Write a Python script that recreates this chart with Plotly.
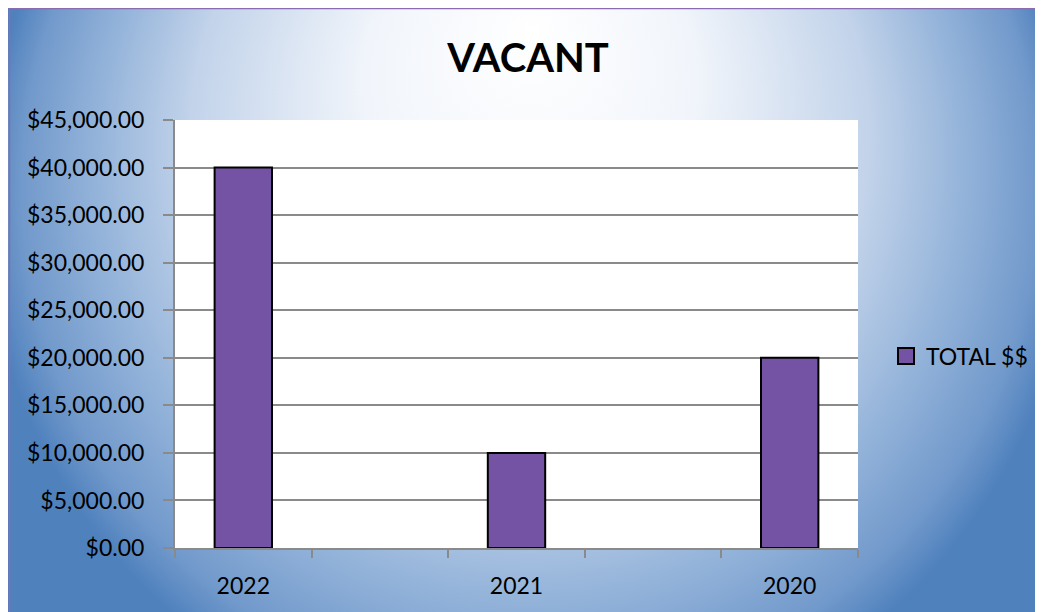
import base64

import plotly.graph_objects as go

# Excel-style category slots: blank spacer slots sit between the years
categories = ["2022", " ", "2021", "  ", "2020"]
total_dollars = [40000, None, 10000, None, 20000]
y_ticks = [0, 5000, 10000, 15000, 20000, 25000, 30000, 35000, 40000, 45000]

_BAR_COLOR = "#7453a4"
_GRID_COLOR = "#8a8a8a"
_FONT = "Lato"

# figure size and plot-area margins in pixels (page has an 8px body margin)
W, H = 1043, 612
L, R, T, B = 167, 193, 112, 72
PW, PH = W - L - R, H - T - B


def px_x(px):
    return (px - L) / PW


def px_y(py):
    return (H - B - py) / PH


# radial blue gradient with its light focus near the top (Excel preset look)
svg = """<svg xmlns='http://www.w3.org/2000/svg' width='1043' height='612'>
<defs><radialGradient id='g' gradientUnits='userSpaceOnUse'
 cx='522' cy='192' r='547' fx='522' fy='22'>
<stop offset='0' stop-color='#ffffff'/>
<stop offset='0.3' stop-color='#f1f5fb'/>
<stop offset='0.62' stop-color='#c2d3ea'/>
<stop offset='0.8' stop-color='#92b2d9'/>
<stop offset='0.93' stop-color='#7199cb'/>
<stop offset='1' stop-color='#4f81bd'/>
</radialGradient></defs>
<rect width='1043' height='612' fill='url(#g)'/>
</svg>"""
bg_uri = "data:image/svg+xml;base64," + base64.b64encode(svg.encode()).decode()

fig = go.Figure()
fig.add_trace(
    go.Bar(
        x=categories,
        y=total_dollars,
        name="TOTAL $$",
        width=0.42,
        marker={"color": _BAR_COLOR, "line": {"color": "#000000", "width": 2}},
        showlegend=False,
    )
)
# legend entry with a larger square swatch, like Excel's
fig.add_trace(
    go.Scatter(
        x=[None],
        y=[None],
        mode="markers",
        name="TOTAL $$",
        marker={"symbol": "square", "size": 16, "color": _BAR_COLOR,
                "line": {"color": "#000000", "width": 2}},
    )
)

fig.add_layout_image(
    source=bg_uri,
    xref="paper",
    yref="paper",
    x=px_x(0),
    y=px_y(0),
    sizex=px_x(W) - px_x(0),
    sizey=px_y(0) - px_y(H),
    xanchor="left",
    yanchor="top",
    sizing="stretch",
    layer="below",
)
# white plot area on top of the gradient
fig.add_shape(
    type="rect", xref="x domain", yref="y domain", x0=0, x1=1, y0=0, y1=1,
    fillcolor="white", line_width=0, layer="below",
)
# thin purple chart border
fig.add_shape(
    type="rect", xref="paper", yref="paper",
    x0=px_x(1.5), x1=px_x(W + 20), y0=px_y(0.5), y1=px_y(H + 20),
    line={"color": "#8a6db0", "width": 1.5}, fillcolor="rgba(0,0,0,0)", layer="below",
)

fig.update_layout(
    width=W,
    height=H,
    margin={"l": L, "r": R, "t": T, "b": B},
    paper_bgcolor="white",
    plot_bgcolor="white",
    font={"family": _FONT, "size": 23, "color": "#000000"},
    title={
        "text": "<b>VACANT</b>",
        "x": 520 / W,
        "xanchor": "center",
        "y": 1 - 50 / H,
        "yanchor": "middle",
        "font": {"size": 40, "family": _FONT},
    },
    legend={
        "x": px_x(878),
        "y": px_y(348),
        "xanchor": "left",
        "yanchor": "middle",
        "bgcolor": "rgba(0,0,0,0)",
        "font": {"size": 23},
        "itemsizing": "trace",
        "itemwidth": 30,
    },
    showlegend=True,
)
fig.update_xaxes(
    type="category",
    categoryorder="array",
    categoryarray=categories,
    tickson="boundaries",
    ticks="outside",
    ticklen=8,
    tickwidth=2,
    tickcolor=_GRID_COLOR,
    ticklabelstandoff=16,
    showline=True,
    linecolor=_GRID_COLOR,
    linewidth=2,
    showgrid=False,
    tickfont={"size": 23},
)
fig.update_yaxes(
    range=[0, 45000],
    tickvals=y_ticks,
    tickformat="$,.2f",
    ticks="outside",
    ticklen=10,
    tickwidth=2,
    tickcolor=_GRID_COLOR,
    ticklabelstandoff=14,
    showline=True,
    linecolor=_GRID_COLOR,
    linewidth=2,
    showgrid=True,
    gridcolor=_GRID_COLOR,
    gridwidth=2,
    zeroline=False,
    tickfont={"size": 23},
)

fig.write_html("out.html")
